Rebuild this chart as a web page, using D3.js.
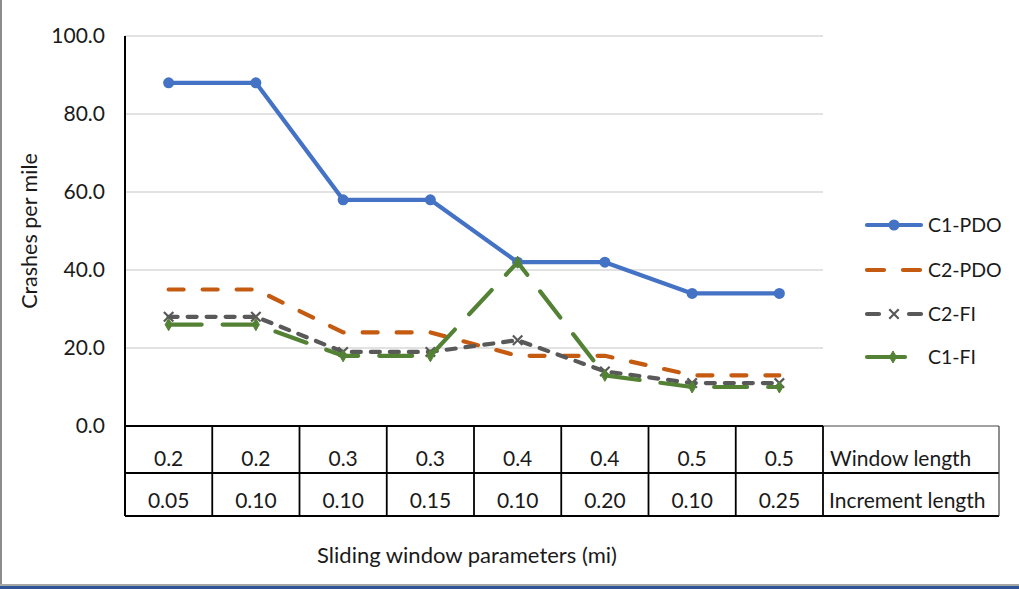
<!DOCTYPE html>
<html>
<head>
<meta charset="utf-8">
<script src="https://cdn.jsdelivr.net/npm/d3@7"></script>
<style>
  html, body { margin: 0; padding: 0; background: #fff; }
  svg { display: block; }
  text { font-family: Lato, "Open Sans", sans-serif; fill: #1a1a1a; }
</style>
</head>
<body>
<svg id="chart" width="1019" height="589"></svg>
<script>
// Sliding window parameter combinations
const categories = ["a", "b", "c", "d", "e", "f", "g", "h"];
const windowLength = ["0.2", "0.2", "0.3", "0.3", "0.4", "0.4", "0.5", "0.5"];
const incrementLength = ["0.05", "0.10", "0.10", "0.15", "0.10", "0.20", "0.10", "0.25"];

// Crashes per mile by method
const c1PDO = [88, 88, 58, 58, 42, 42, 34, 34];
const c2PDO = [35, 35, 24, 24, 18, 18, 13, 13];
const c2FI  = [28, 28, 19, 19, 22, 14, 11, 11];
const c1FI  = [26, 26, 18, 18, 42, 13, 10, 10];

const yTicks = [0, 20, 40, 60, 80, 100];

const series = [
  { name: "C1-PDO", values: c1PDO, color: "#4472C4", dash: null,    marker: "circle" },
  { name: "C2-PDO", values: c2PDO, color: "#C55A11", dash: "15,19", marker: null },
  { name: "C2-FI",  values: c2FI,  color: "#595959", dash: "9,10",  marker: "x" },
  { name: "C1-FI",  values: c1FI,  color: "#548235", dash: "33,21", marker: "diamond" }
];

const svg = d3.select("#chart");

const plot = { left: 125, right: 823, top: 36, bottom: 426 };
const x = d3.scaleBand().domain(categories).range([plot.left, plot.right]).padding(0);
const y = d3.scaleLinear().domain([0, 100]).range([plot.bottom, plot.top]);
const cx = d => x(d) + x.bandwidth() / 2;

const bodyFont = "21px";

// frame edges
svg.append("line").attr("x1", 1).attr("x2", 1).attr("y1", 0).attr("y2", 586)
  .attr("stroke", "#8c8c8c").attr("stroke-width", 2);
svg.append("rect").attr("x", 0).attr("y", 584).attr("width", 1019).attr("height", 2).attr("fill", "#a6a6a6");
svg.append("rect").attr("x", 0).attr("y", 586).attr("width", 1019).attr("height", 3).attr("fill", "#2f5597");

// gridlines
svg.append("g").selectAll("line").data(yTicks.filter(t => t > 0)).join("line")
  .attr("x1", plot.left).attr("x2", plot.right)
  .attr("y1", d => y(d)).attr("y2", d => y(d))
  .attr("stroke", "#d9d9d9").attr("stroke-width", 1.5);

// y axis
const yAxis = d3.axisLeft(y).tickValues(yTicks).tickFormat(d3.format(".1f")).tickSize(0).tickPadding(20);
const gy = svg.append("g").attr("transform", `translate(${plot.left},0)`).call(yAxis);
gy.select(".domain").remove();
gy.selectAll("text").style("font-size", bodyFont).style("font-family", "Lato, sans-serif").attr("fill", "#1a1a1a");
svg.append("line").attr("x1", plot.left).attr("x2", plot.left).attr("y1", plot.top).attr("y2", 516)
  .attr("stroke", "#000").attr("stroke-width", 2);

// data table under the axis
const rowMid = 473, rowBot = 516, tableRight = 999;
const tbl = svg.append("g").attr("stroke", "#000").attr("stroke-width", 1.8);
tbl.append("line").attr("x1", plot.left).attr("x2", plot.right).attr("y1", plot.bottom).attr("y2", plot.bottom);
tbl.append("line").attr("x1", plot.right).attr("x2", tableRight).attr("y1", plot.bottom).attr("y2", plot.bottom).attr("stroke", "#444").attr("stroke-width", 1.2);
tbl.append("line").attr("x1", plot.left).attr("x2", tableRight).attr("y1", rowMid).attr("y2", rowMid);
tbl.append("line").attr("x1", plot.left).attr("x2", tableRight).attr("y1", rowBot).attr("y2", rowBot);
tbl.selectAll(".vl").data(categories).join("line").attr("class", "vl")
  .attr("x1", d => x(d) + x.bandwidth()).attr("x2", d => x(d) + x.bandwidth())
  .attr("y1", plot.bottom).attr("y2", rowBot);
tbl.append("line").attr("x1", tableRight).attr("x2", tableRight).attr("y1", plot.bottom).attr("y2", rowBot).attr("stroke", "#444").attr("stroke-width", 1.2);

const cellText = svg.append("g").style("font-size", bodyFont).attr("text-anchor", "middle");
cellText.selectAll(".wl").data(categories).join("text").attr("class", "wl")
  .attr("x", d => cx(d)).attr("y", 466).text((d, i) => windowLength[i]);
cellText.selectAll(".il").data(categories).join("text").attr("class", "il")
  .attr("x", d => cx(d)).attr("y", 508).text((d, i) => incrementLength[i]);
svg.append("text").attr("x", 830).attr("y", 466).style("font-size", bodyFont).text("Window length");
svg.append("text").attr("x", 829).attr("y", 508).style("font-size", bodyFont).text("Increment length");

// axis titles
svg.append("text").attr("transform", "translate(37,231) rotate(-90)").attr("text-anchor", "middle")
  .style("font-size", "21.5px").text("Crashes per mile");
svg.append("text").attr("x", 467).attr("y", 563).attr("text-anchor", "middle")
  .style("font-size", "22px").text("Sliding window parameters (mi)");

// marker drawing
function drawMarker(g, type, color, px, py) {
  if (type === "circle") {
    g.append("circle").attr("cx", px).attr("cy", py).attr("r", 5.5).attr("fill", color);
  } else if (type === "diamond") {
    g.append("path").attr("transform", `translate(${px},${py})`)
      .attr("d", d3.symbol().type(d3.symbolDiamond).size(42)()).attr("fill", color).attr("stroke", color).attr("stroke-width", 1);
  } else if (type === "x") {
    g.append("path").attr("transform", `translate(${px},${py})`)
      .attr("d", d3.symbol().type(d3.symbolX).size(60)()).attr("fill", "none").attr("stroke", color).attr("stroke-width", 2.2);
  }
}

// series lines
const line = d3.line().x((v, i) => cx(categories[i])).y(v => y(v));
series.forEach(s => {
  const g = svg.append("g");
  g.append("path").datum(s.values).attr("d", line)
    .attr("fill", "none").attr("stroke", s.color).attr("stroke-width", 4.2)
    .attr("stroke-linecap", "round").attr("stroke-linejoin", "round")
    .attr("stroke-dasharray", s.dash);
  if (s.marker) s.values.forEach((v, i) => drawMarker(g, s.marker, s.color, cx(categories[i]), y(v)));
});

// legend
const legendY = [225, 270, 314, 357];
const legendDash = { "C2-PDO": "17,19", "C2-FI": "12,30" };
const legend = svg.append("g");
series.forEach((s, i) => {
  const ly = legendY[i];
  const g = legend.append("g");
  const x2 = s.name === "C1-FI" ? 905 : 921;
  g.append("line").attr("x1", 867).attr("x2", x2).attr("y1", ly).attr("y2", ly)
    .attr("stroke", s.color).attr("stroke-width", 4.2).attr("stroke-linecap", "round")
    .attr("stroke-dasharray", legendDash[s.name] || null);
  if (s.marker) drawMarker(g, s.marker, s.color, s.name === "C1-FI" ? 893 : 894, ly);
  g.append("text").attr("x", 928).attr("y", ly + 7).style("font-size", "19.5px").text(s.name);
});
</script>
</body>
</html>
